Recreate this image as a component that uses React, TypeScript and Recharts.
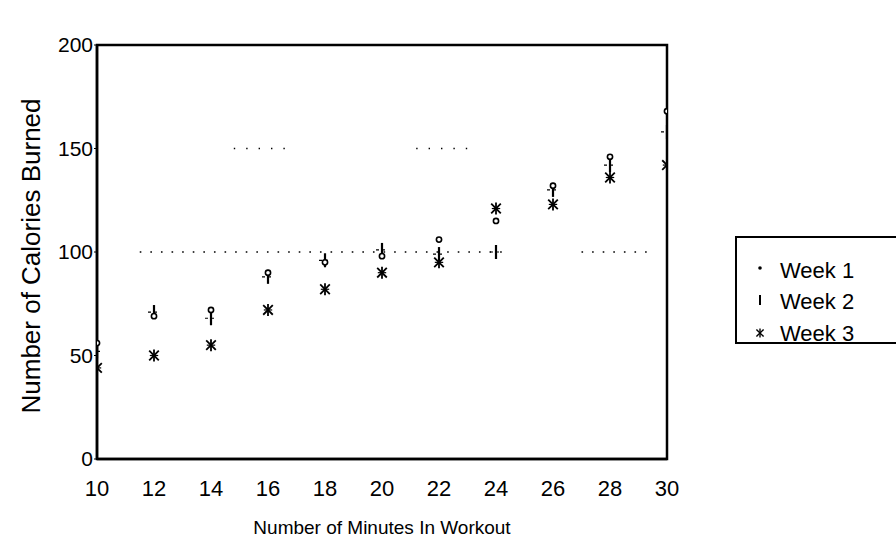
import React from "react";
import {
  ScatterChart,
  Scatter,
  XAxis,
  YAxis,
  ReferenceLine,
  ReferenceArea,
} from "recharts";

const minutes = [10, 12, 14, 16, 18, 20, 22, 24, 26, 28, 30];
const week1 = [56, 69, 72, 90, 95, 98, 106, 115, 132, 146, 168];
const week2 = [52, 71, 68, 88, 96, 101, 99, 100, 130, 142, 158];
const week3 = [44, 50, 55, 72, 82, 90, 95, 121, 123, 136, 142];
const seriesNames = ["Week 1", "Week 2", "Week 3"];
const yTicks = [0, 50, 100, 150, 200];
const xTicks = minutes;
const dotted100 = [
  [11.5, 24.3],
  [27, 29.6],
];
const dotted150 = [
  [14.8, 16.8],
  [21.2, 23.1],
];

const toData = (vals: number[]) => minutes.map((m, i) => ({ x: m, y: vals[i] }));
const data1 = toData(week1);
const data2 = toData(week2);
const data3 = toData(week3);

const FONT = "'Liberation Sans', Arial, Helvetica, sans-serif";

const DotMark = ({ cx, cy }: any) => (
  <circle cx={cx} cy={cy} r={2.6} fill="#fff" stroke="#000" strokeWidth={1.6} />
);

const BarMark = ({ cx, cy }: any) => (
  <g stroke="#000">
    <line x1={cx} y1={cy - 7} x2={cx} y2={cy + 7} strokeWidth={2.2} />
    <line x1={cx - 6} y1={cy} x2={cx + 6} y2={cy} strokeWidth={1.2} strokeDasharray="3 3" />
  </g>
);

const LegendBarMark = ({ cx, cy }: any) => (
  <line x1={cx} y1={cy - 6} x2={cx} y2={cy + 4} stroke="#000" strokeWidth={2} />
);

const StarMark = ({ cx, cy }: any) => {
  const r = 6;
  const d = r * 0.8;
  return (
    <g stroke="#000" strokeWidth={1.8}>
      <line x1={cx} y1={cy - r} x2={cx} y2={cy + r} />
      <line x1={cx - d} y1={cy - d} x2={cx + d} y2={cy + d} />
      <line x1={cx - d} y1={cy + d} x2={cx + d} y2={cy - d} />
      <line x1={cx - r * 0.7} y1={cy} x2={cx + r * 0.7} y2={cy} strokeWidth={1.2} />
    </g>
  );
};

const LegendDot = ({ cx, cy }: any) => (
  <circle cx={cx} cy={cy - 2} r={1.8} fill="#000" />
);
const LegendStar = ({ cx, cy }: any) => {
  const r = 4.5;
  const d = r * 0.8;
  return (
    <g stroke="#000" strokeWidth={1.4}>
      <line x1={cx} y1={cy - r} x2={cx} y2={cy + r} />
      <line x1={cx - d} y1={cy - d} x2={cx + d} y2={cy + d} />
      <line x1={cx - d} y1={cy + d} x2={cx + d} y2={cy - d} />
    </g>
  );
};

const legendMarkers = [LegendDot, LegendBarMark, LegendStar];

const LegendBox = () => (
  <div
    style={{
      position: "absolute",
      left: 735,
      top: 236,
      border: "2px solid #000",
      borderRight: "none",
      background: "#fff",
      width: 170,
      height: 108,
      boxSizing: "border-box",
      paddingTop: 17,
      fontFamily: FONT,
    }}
  >
    {seriesNames.map((name, i) => {
      const M = legendMarkers[i];
      return (
        <div
          key={name}
          style={{ display: "flex", alignItems: "center", height: 31.5, fontSize: 22, color: "#000" }}
        >
          <svg width={43} height={24} style={{ flex: "none" }}>
            <M cx={23} cy={11} />
          </svg>
          <span>{name}</span>
        </div>
      );
    })}
  </div>
);

export default function App() {
  return (
    <div style={{ position: "absolute", left: 0, top: 0, width: 896, height: 537, background: "#fff" }}>
      <ScatterChart
        width={896}
        height={537}
        margin={{ top: 45, right: 229, left: 0, bottom: 0 }}
        style={{ fontFamily: FONT }}
      >
        <XAxis
          type="number"
          dataKey="x"
          domain={[10, 30]}
          ticks={xTicks}
          allowDataOverflow
          height={78}
          axisLine={{ stroke: "#000", strokeWidth: 2.5 }}
          tickLine={false}
          tickMargin={15}
          tick={{ fill: "#000", fontSize: 22 }}
          label={{
            value: "Number of Minutes In Workout",
            position: "insideBottom",
            offset: 3,
            fill: "#000",
            fontSize: 19,
          }}
        />
        <YAxis
          type="number"
          dataKey="y"
          domain={[0, 200]}
          ticks={yTicks}
          allowDataOverflow
          width={97}
          axisLine={{ stroke: "#000", strokeWidth: 2.5 }}
          tickSize={3}
          tickMargin={1}
          tickLine={{ stroke: "#000" }}
          tick={{ fill: "#000", fontSize: 21 }}
          label={{
            content: (p: any) => {
              const vb = p.viewBox || { y: 45, height: 414 };
              const cy = vb.y + vb.height / 2 + 4;
              return (
                <text
                  x={31}
                  y={cy}
                  transform={`rotate(-90 31 ${cy})`}
                  textAnchor="middle"
                  dominantBaseline="central"
                  fontSize={26}
                  fill="#000"
                  fontFamily={FONT}
                >
                  Number of Calories Burned
                </text>
              );
            },
          }}
        />
        <ReferenceArea
          x1={10}
          x2={30}
          y1={0}
          y2={200}
          fill="none"
          fillOpacity={0}
          stroke="#000"
          strokeWidth={2.5}
        />
        {dotted100.map(([a, b], i) => (
          <ReferenceLine
            key={"d100" + i}
            segment={[
              { x: a, y: 100 },
              { x: b, y: 100 },
            ]}
            stroke="#000"
            strokeWidth={1.6}
            strokeDasharray="1.6 9"
          />
        ))}
        {dotted150.map(([a, b], i) => (
          <ReferenceLine
            key={"d150" + i}
            segment={[
              { x: a, y: 150 },
              { x: b, y: 150 },
            ]}
            stroke="#000"
            strokeWidth={1.4}
            strokeDasharray="1.4 11"
          />
        ))}
        <Scatter
          name={seriesNames[2]}
          data={data3}
          isAnimationActive={false}
          shape={(p: any) => <StarMark cx={p.cx} cy={p.cy} />}
        />
        <Scatter
          name={seriesNames[1]}
          data={data2}
          isAnimationActive={false}
          shape={(p: any) => <BarMark cx={p.cx} cy={p.cy} />}
        />
        <Scatter
          name={seriesNames[0]}
          data={data1}
          isAnimationActive={false}
          shape={(p: any) => <DotMark cx={p.cx} cy={p.cy} />}
        />
      </ScatterChart>
      <LegendBox />
    </div>
  );
}
